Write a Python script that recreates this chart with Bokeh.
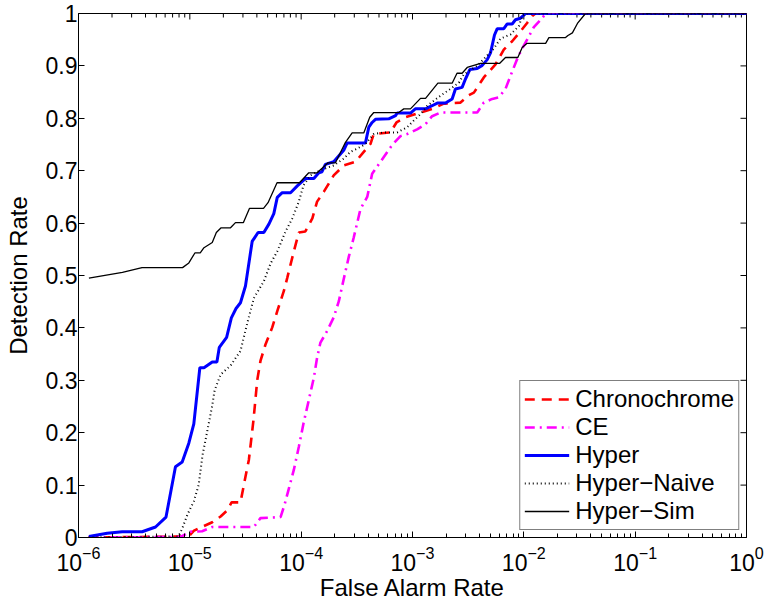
import math
from bokeh.plotting import figure
from bokeh.models import Range1d, FixedTicker, LogTickFormatter, Legend, LegendItem
from bokeh.embed import file_html
from bokeh.resources import INLINE

# ---------------- data (false alarm rate, detection rate) ----------------
chrono_far = [1.23e-6, 9.73e-6, 1.09e-5, 1.25e-5, 1.59e-5, 1.89e-5, 2.17e-5, 2.37e-5, 2.85e-5, 3.16e-5,
              3.39e-5, 3.73e-5, 4.03e-5, 4.31e-5, 4.79e-5, 5.50e-5, 6.10e-5, 6.98e-5, 7.49e-5, 8.59e-5,
              9.53e-5, 1.09e-4, 1.26e-4, 1.39e-4, 1.60e-4, 1.96e-4, 2.41e-4, 3.08e-4, 3.65e-4, 4.19e-4,
              4.49e-4, 6.34e-4, 7.18e-4, 8.65e-4, 1.18e-3, 1.55e-3, 1.91e-3, 2.70e-3, 3.21e-3, 3.56e-3,
              4.37e-3, 5.57e-3, 6.61e-3, 7.86e-3, 9.33e-3, 1.07e-2, 1.19e-2, 1.27e-2, 1.0]
chrono_pd = [0.0, 0.002, 0.013, 0.019, 0.029, 0.040, 0.052, 0.067, 0.067, 0.116,
             0.148, 0.224, 0.300, 0.337, 0.369, 0.401, 0.432, 0.470, 0.495, 0.546,
             0.582, 0.584, 0.609, 0.641, 0.660, 0.691, 0.710, 0.717, 0.736, 0.751,
             0.770, 0.773, 0.792, 0.802, 0.811, 0.819, 0.828, 0.830, 0.844, 0.849,
             0.878, 0.903, 0.931, 0.947, 0.966, 0.982, 0.995, 1.0, 1.0]

ce_far = [1.23e-6, 8.24e-6, 1.01e-5, 1.29e-5, 1.59e-5, 3.76e-5, 4.31e-5, 6.53e-5, 7.10e-5, 7.70e-5,
          8.59e-5, 9.53e-5, 1.05e-4, 1.17e-4, 1.30e-4, 1.39e-4, 1.49e-4, 1.71e-4, 1.96e-4, 2.18e-4,
          2.41e-4, 2.68e-4, 2.97e-4, 3.41e-4, 3.92e-4, 4.34e-4, 5.16e-4, 6.56e-4, 7.80e-4, 8.95e-4,
          1.10e-3, 1.31e-3, 1.50e-3, 1.78e-3, 3.81e-3, 4.37e-3, 5.20e-3, 5.96e-3, 6.84e-3, 7.59e-3,
          8.59e-3, 9.53e-3, 1.07e-2, 1.23e-2, 1.36e-2, 1.46e-2, 1.57e-2, 1.0]
ce_pd = [0.0, 0.001, 0.011, 0.012, 0.020, 0.020, 0.037, 0.039, 0.063, 0.091,
         0.129, 0.173, 0.218, 0.262, 0.305, 0.343, 0.372, 0.394, 0.420, 0.451,
         0.493, 0.536, 0.573, 0.627, 0.650, 0.694, 0.717, 0.749, 0.766, 0.770,
         0.779, 0.789, 0.804, 0.811, 0.811, 0.830, 0.837, 0.840, 0.856, 0.881,
         0.910, 0.931, 0.950, 0.974, 0.984, 0.991, 1.0, 1.0]

hyper_far = [1.24e-6, 1.81e-6, 2.47e-6, 3.73e-6, 4.92e-6, 6.11e-6, 7.43e-6, 8.54e-6, 9.79e-6, 1.086e-5,
             1.23e-5, 1.34e-5, 1.59e-5, 1.75e-5, 1.84e-5, 2.14e-5, 2.36e-5, 2.60e-5, 2.85e-5, 3.16e-5,
             3.63e-5, 4.10e-5, 4.62e-5, 5.13e-5, 5.68e-5, 6.10e-5, 6.76e-5, 8.03e-5, 9.23e-5, 1.09e-4,
             1.30e-4, 1.44e-4, 1.54e-4, 1.65e-4, 1.96e-4, 2.41e-4, 2.59e-4, 3.78e-4, 4.05e-4, 4.34e-4,
             4.65e-4, 6.12e-4, 7.04e-4, 7.29e-4, 9.59e-4, 1.06e-3, 1.31e-3, 1.50e-3, 1.67e-3, 1.98e-3,
             2.27e-3, 2.43e-3, 2.79e-3, 2.99e-3, 3.27e-3, 3.81e-3, 4.23e-3, 4.69e-3, 5.02e-3, 5.45e-3,
             5.77e-3, 6.61e-3, 7.09e-3, 7.86e-3, 8.41e-3, 9.33e-3, 1.04e-2, 1.0]
hyper_pd = [0.002, 0.008, 0.011, 0.011, 0.020, 0.039, 0.135, 0.144, 0.180, 0.217,
            0.324, 0.324, 0.335, 0.335, 0.363, 0.382, 0.419, 0.437, 0.448, 0.480,
            0.565, 0.582, 0.582, 0.598, 0.618, 0.649, 0.658, 0.658, 0.671, 0.685,
            0.685, 0.696, 0.698, 0.712, 0.717, 0.739, 0.753, 0.753, 0.783, 0.792,
            0.798, 0.799, 0.805, 0.810, 0.810, 0.818, 0.818, 0.824, 0.829, 0.829,
            0.837, 0.856, 0.859, 0.875, 0.893, 0.895, 0.901, 0.912, 0.925, 0.959,
            0.971, 0.971, 0.980, 0.980, 0.988, 0.991, 1.0, 1.0]

naive_far = [1.23e-6, 7.91e-6, 8.54e-6, 9.53e-6, 1.086e-5, 1.20e-5, 1.30e-5, 1.44e-5, 1.59e-5, 1.67e-5,
             1.89e-5, 2.32e-5, 2.85e-5, 3.28e-5, 3.76e-5, 4.62e-5, 5.31e-5, 6.10e-5, 7.24e-5, 8.32e-5,
             9.53e-5, 1.05e-4, 1.21e-4, 1.49e-4, 1.96e-4, 2.41e-4, 2.77e-4, 3.18e-4, 3.78e-4, 4.49e-4,
             5.52e-4, 7.28e-4, 8.95e-4, 1.03e-3, 1.18e-3, 1.36e-3, 1.78e-3, 2.19e-3, 2.61e-3, 2.89e-3,
             3.81e-3, 5.37e-3, 6.17e-3, 7.59e-3, 9.02e-3, 9.67e-3, 1.04e-2, 1.0]
naive_pd = [0.0, 0.002, 0.017, 0.044, 0.069, 0.100, 0.157, 0.205, 0.252, 0.281,
            0.311, 0.328, 0.356, 0.409, 0.457, 0.489, 0.523, 0.546, 0.584, 0.609,
            0.641, 0.672, 0.691, 0.701, 0.710, 0.723, 0.736, 0.742, 0.751, 0.770,
            0.773, 0.773, 0.783, 0.796, 0.808, 0.824, 0.843, 0.856, 0.868, 0.884,
            0.900, 0.933, 0.952, 0.960, 0.976, 0.995, 1.0, 1.0]

sim_far = [1.24e-6, 2.48e-6, 3.72e-6, 8.6e-6, 9.8e-6, 1.11e-5, 1.24e-5, 1.34e-5, 1.59e-5, 1.73e-5,
           1.91e-5, 2.32e-5, 2.57e-5, 3.03e-5, 3.43e-5, 4.59e-5, 5.04e-5, 6.07e-5, 9.67e-5, 1.17e-4,
           1.39e-4, 1.55e-4, 1.74e-4, 2.03e-4, 2.22e-4, 2.50e-4, 2.87e-4, 3.65e-4, 4.13e-4, 4.49e-4,
           7.53e-4, 8.35e-4, 9.59e-4, 1.18e-3, 1.31e-3, 1.69e-3, 2.27e-3, 2.51e-3, 2.79e-3, 3.10e-3,
           4.08e-3, 6.08e-3, 6.84e-3, 8.83e-3, 9.67e-3, 1.07e-2, 1.57e-2, 1.68e-2, 2.37e-2, 2.49e-2,
           2.73e-2, 3.03e-2, 3.58e-2, 1.0]
sim_pd = [0.495, 0.506, 0.515, 0.515, 0.524, 0.543, 0.543, 0.553, 0.563, 0.582,
          0.591, 0.591, 0.601, 0.601, 0.628, 0.628, 0.639, 0.677, 0.677, 0.696,
          0.696, 0.705, 0.715, 0.715, 0.732, 0.754, 0.772, 0.772, 0.802, 0.811,
          0.811, 0.818, 0.818, 0.838, 0.838, 0.867, 0.867, 0.886, 0.886, 0.897,
          0.905, 0.905, 0.916, 0.916, 0.935, 0.943, 0.943, 0.954, 0.954, 0.958,
          0.963, 0.981, 1.0, 1.0]

series_names = ["Chronochrome", "CE", "Hyper", "Hyper\u2212Naive", "Hyper\u2212Sim"]
x_major = [1e-6, 1e-5, 1e-4, 1e-3, 1e-2, 1e-1, 1.0]
y_major = [0, 0.1, 0.2, 0.3, 0.4, 0.5, 0.6, 0.7, 0.8, 0.9, 1]
y_labels = ["0", "0.1", "0.2", "0.3", "0.4", "0.5", "0.6", "0.7", "0.8", "0.9", "1"]
x_title = "False Alarm Rate"
y_title = "Detection Rate"

# ---------------- figure ----------------
FONT = "Liberation Sans"
TICK_FS = "23px"
TITLE_FS = "24px"
X_MIN, X_MAX = 1e-6, 1.0
Y_MIN, Y_MAX = 0.0, 1.0

p = figure(width=764, height=603, x_axis_type="log",
           x_range=Range1d(X_MIN, X_MAX), y_range=Range1d(Y_MIN, Y_MAX),
           output_backend="svg", toolbar_location=None,
           min_border_left=78, min_border_right=18, min_border_top=13, min_border_bottom=65,
           x_axis_label=x_title, y_axis_label=y_title)
p.background_fill_color = "white"
p.border_fill_color = "white"
p.outline_line_color = "black"
p.outline_line_width = 1
p.xgrid.visible = False
p.ygrid.visible = False

x_minor = [m * 10.0 ** e for e in range(-6, 0) for m in range(2, 10)]
xticker = FixedTicker(ticks=x_major, minor_ticks=x_minor)
yticker = FixedTicker(ticks=y_major, minor_ticks=[])

xa = p.xaxis[0]
xa.ticker = xticker
xa.formatter = LogTickFormatter()
ya = p.yaxis[0]
ya.ticker = yticker
ya.major_label_overrides = {v: s for v, s in zip(y_major, y_labels)}

for ax in (xa, ya):
    ax.major_tick_in = 6
    ax.major_tick_out = 0
    ax.minor_tick_in = 4
    ax.minor_tick_out = 0
    ax.axis_line_color = "black"
    ax.major_tick_line_color = "black"
    ax.minor_tick_line_color = "black"
    ax.major_label_text_font = FONT
    ax.major_label_text_font_size = TICK_FS
    ax.major_label_text_color = "black"
    ax.axis_label_text_font = FONT
    ax.axis_label_text_font_size = TITLE_FS
    ax.axis_label_text_font_style = "normal"
    ax.axis_label_text_color = "black"
xa.major_label_standoff = 8
xa.axis_label_standoff = 0
ya.major_label_standoff = 1
ya.axis_label_standoff = 11

# mirrored inward ticks on the top and right edges (clipped to the frame)
p.scatter(x_major, [Y_MAX] * len(x_major), marker="dash", angle=math.pi / 2, size=12,
          line_color="black", line_width=1)
p.scatter(x_minor, [Y_MAX] * len(x_minor), marker="dash", angle=math.pi / 2, size=8,
          line_color="black", line_width=1)
p.scatter([X_MAX] * len(y_major), y_major, marker="dash", size=12,
          line_color="black", line_width=1)

# ---------------- curves ----------------
r1 = p.line(chrono_far, chrono_pd, line_color="#ff0000", line_width=2.6, line_dash="10 7")
r2 = p.line(ce_far, ce_pd, line_color="#ff00ff", line_width=2.6, line_dash="10 5 2 5")
r3 = p.line(hyper_far, hyper_pd, line_color="#0000ff", line_width=3)
r4 = p.line(naive_far, naive_pd, line_color="black", line_width=2, line_dash="1 3")
r5 = p.line(sim_far, sim_pd, line_color="black", line_width=1.3)

legend = Legend(items=[LegendItem(label=n, renderers=[r]) for n, r in
                       zip(series_names, [r1, r2, r3, r4, r5])],
                location="bottom_right")
legend.margin = 7
legend.padding = 4
legend.spacing = 0
legend.glyph_width = 45
legend.glyph_height = 28
legend.label_height = 28
legend.label_standoff = 6
legend.label_text_font = FONT
legend.label_text_font_size = TITLE_FS
legend.label_text_color = "black"
legend.border_line_color = "black"
legend.border_line_width = 1
legend.background_fill_color = "white"
legend.background_fill_alpha = 1.0
p.add_layout(legend)

open("out.html", "w").write(file_html(p, INLINE))
